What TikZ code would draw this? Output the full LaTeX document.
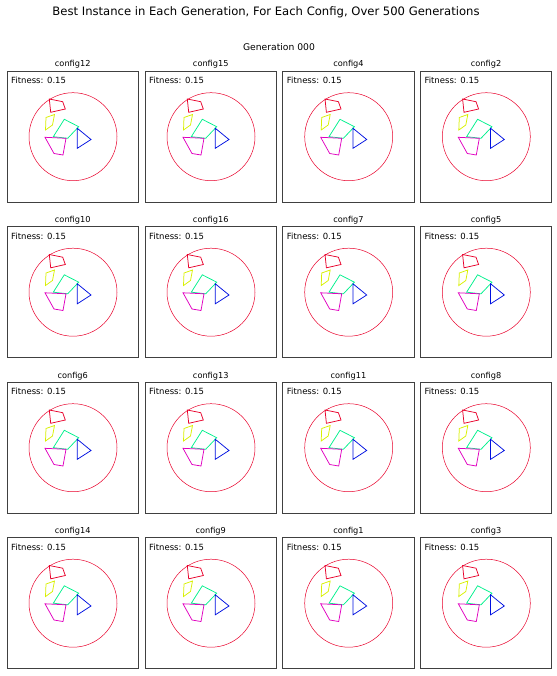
\documentclass[tikz,border=0pt]{standalone}
\usepackage{fontspec}
\setmainfont{DejaVu Sans}
\definecolor{cred}{HTML}{E8002A}
\definecolor{cyel}{HTML}{D8F000}
\definecolor{cgrn}{HTML}{00F08C}
\definecolor{cmag}{HTML}{E000C0}
\definecolor{cblu}{HTML}{0010E0}
\tikzset{
  panelbox/.style={draw=black!75, line width=0.7pt},
  shp/.style={line width=0.75pt, line join=miter},
  paneltitle/.style={font=\fontsize{8.2}{9}\selectfont, anchor=base, inner sep=0pt},
  fit/.style={font=\fontsize{8.5}{9}\selectfont, anchor=base west, inner sep=0pt},
  pics/panel/.style args={#1}{code={
    \draw[panelbox] (0,0) rectangle (131.5,131);
    \node[paneltitle] (-title) at (65.75,-4) {#1};
    \node[fit] (-fit) at (4,12.5) {Fitness: 0.15};
    \draw[cred, line width=0.5pt] (66,65.7) circle (44);
    \draw[shp, cred] (42.3,28) -- (55.7,30.7) -- (58.3,38) -- (43.7,41.3) -- cycle;
    \draw[shp, cyel] (39,46.5) -- (47.5,43.5) -- (45.5,54) -- (38.5,59) -- cycle;
    \draw[shp, cgrn] (46.3,65.7) -- (57.3,48.3) -- (71.7,55.7) -- (60.7,67.3) -- cycle;
    \draw[shp, cmag] (38,66.3) -- (59,67.3) -- (56,84) -- (47,82.5) -- cycle;
    \draw[shp, cblu] (70.3,57.3) -- (84,68.5) -- (70.3,77.3) -- cycle;
  }}
}
\begin{document}
\begin{tikzpicture}[x=1pt,y=-1pt]
\useasboundingbox (0,0) rectangle (556,676);
\node[font=\fontsize{11.6}{14}\selectfont, anchor=base] (title) at (266,16) {Best Instance in Each Generation, For Each Config, Over 500 Generations};
\node[font=\fontsize{9.2}{11}\selectfont, anchor=base] (gen) at (279,50.5) {Generation 000};
\pic (p1) at (7,71) {panel={config12}};
\pic (p2) at (145,71) {panel={config15}};
\pic (p3) at (282.7,71) {panel={config4}};
\pic (p4) at (420.3,71) {panel={config2}};
\pic (p5) at (7,226.5) {panel={config10}};
\pic (p6) at (145,226.5) {panel={config16}};
\pic (p7) at (282.7,226.5) {panel={config7}};
\pic (p8) at (420.3,226.5) {panel={config5}};
\pic (p9) at (7,382) {panel={config6}};
\pic (p10) at (145,382) {panel={config13}};
\pic (p11) at (282.7,382) {panel={config11}};
\pic (p12) at (420.3,382) {panel={config8}};
\pic (p13) at (7,537.5) {panel={config14}};
\pic (p14) at (145,537.5) {panel={config9}};
\pic (p15) at (282.7,537.5) {panel={config1}};
\pic (p16) at (420.3,537.5) {panel={config3}};
\end{tikzpicture}
\end{document}
